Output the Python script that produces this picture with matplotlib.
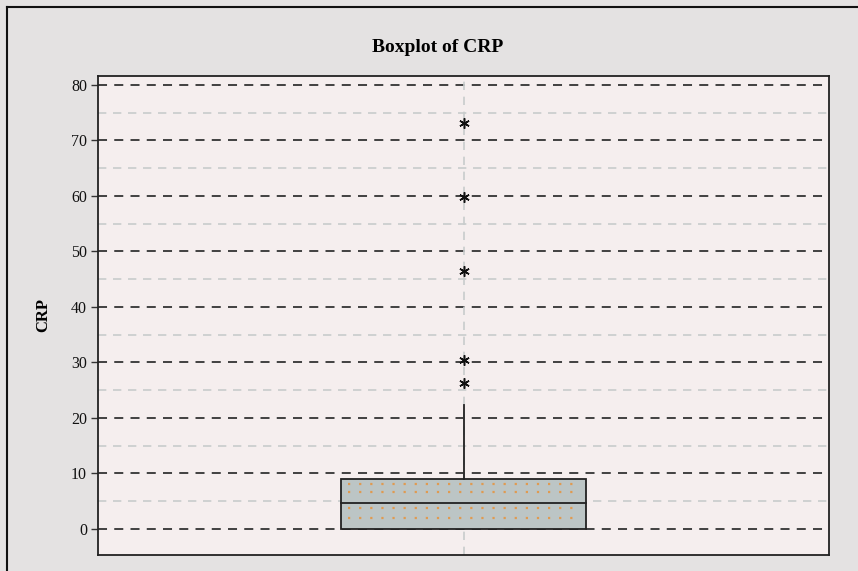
import matplotlib
matplotlib.use("Agg")
import matplotlib.pyplot as plt
from matplotlib.lines import Line2D
from matplotlib.patches import Rectangle

# box statistics
q1 = 0.0
median = 4.7
q3 = 9.0
whisker_low = 0.0
whisker_high = 22.3
outliers = [26.2, 30.5, 46.5, 59.8, 73.2]
# faint orange dotted lines drawn inside the box
box_dots = [2.0, 3.7, 6.7, 8.1]

major_ticks = [0, 10, 20, 30, 40, 50, 60, 70, 80]
minor_ticks = [5, 15, 25, 35, 45, 55, 65, 75]

plt.rcParams['font.family'] = ['Liberation Serif', 'DejaVu Serif']

fig = plt.figure(figsize=(8.58, 5.71), dpi=100, facecolor='#e4e2e2')
ax = fig.add_axes([98 / 858, 16 / 571, 731 / 858, 479 / 571])
ax.set_facecolor('#f5eeee')

pos = 0.5
width = 0.335
ax.set_xlim(0, 1)
ax.set_ylim(-4.7, 81.6)

# grid lines
for y in minor_ticks:
    ax.axhline(y, color='#c8cccc', lw=1.2, ls=(0, (5, 4)), zorder=1)
for y in major_ticks:
    ax.axhline(y, color='#333333', lw=1.3, ls=(0, (5, 4)), zorder=1)
ax.axvline(pos, color='#c8cccc', lw=1.2, ls=(0, (5, 4)), zorder=1)

# box
ax.add_patch(Rectangle((pos - width / 2, q1), width, q3 - q1,
                       facecolor='#bcc5c5', edgecolor='#222222', lw=1.3, zorder=3))
ax.plot([pos - width / 2, pos + width / 2], [median, median], color='#222222', lw=1.3, zorder=4)
for y in box_dots:
    ax.plot([pos - width / 2 + 0.01, pos + width / 2 - 0.01], [y, y],
            color='#e09a50', lw=1.6, ls=(0, (1, 4)), zorder=4)

# whiskers
ax.plot([pos, pos], [q3, whisker_high], color='#222222', lw=1.3, zorder=3)
ax.plot([pos, pos], [q1, whisker_low], color='#222222', lw=1.3, zorder=3)

# outliers
ax.plot([pos] * len(outliers), outliers, ls='none', marker=(6, 2, 0),
        markersize=7.5, mec='#111111', mew=1.1, zorder=5)

ax.set_yticks(major_ticks)
ax.set_xticks([])
ax.tick_params(axis='y', direction='out', length=5, width=1, color='#333333',
               labelsize=11.5, labelcolor='#111111', pad=3)
for s in ax.spines.values():
    s.set_color('#222222')
    s.set_linewidth(1.3)

ax.set_ylabel('CRP', fontsize=12, fontweight='bold', labelpad=14)
fig.text(438 / 858, 1 - 47 / 571, 'Boxplot of CRP', ha='center', va='center',
         fontsize=14, fontweight='bold')

# window border on the left and top
fig.add_artist(Line2D([7 / 858, 7 / 858], [0, 1 - 7 / 571], color='#111111', lw=1.5))
fig.add_artist(Line2D([7 / 858, 1], [1 - 7 / 571, 1 - 7 / 571], color='#111111', lw=1.5))

fig.savefig('out.png', dpi=100, facecolor=fig.get_facecolor())
